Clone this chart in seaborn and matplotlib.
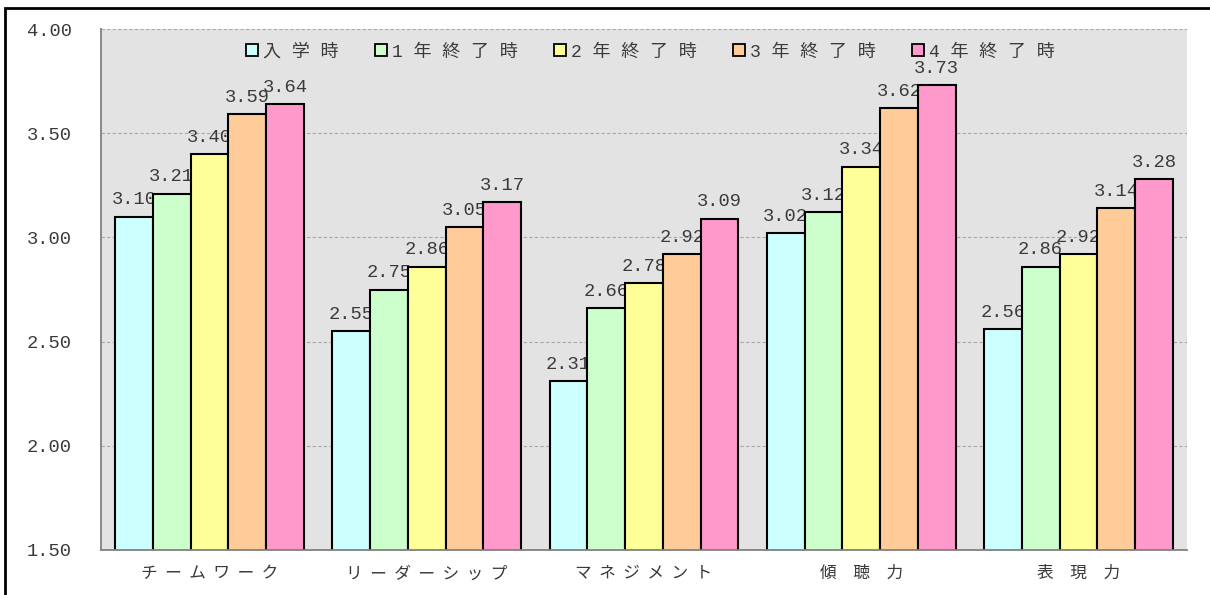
import pandas as pd
import seaborn as sns
import matplotlib.pyplot as plt
from matplotlib.patches import Rectangle, Patch

# data
skills = ['チームワーク', 'リーダーシップ', 'マネジメント', '傾聴力', '表現力']
stages = ['入学時', '1年終了時', '2年終了時', '3年終了時', '4年終了時']
nyugaku = [3.10, 2.55, 2.31, 3.02, 2.56]
year1 = [3.21, 2.75, 2.66, 3.12, 2.86]
year2 = [3.40, 2.86, 2.78, 3.34, 2.92]
year3 = [3.59, 3.05, 2.92, 3.62, 3.14]
year4 = [3.64, 3.17, 3.09, 3.73, 3.28]
colors = ['#CCFFFF', '#CCFFCC', '#FFFF99', '#FFCC99', '#FF99CC']

rows = []
for stage, vals in zip(stages, [nyugaku, year1, year2, year3, year4]):
    for skill, v in zip(skills, vals):
        rows.append({'skill': skill, 'stage': stage, 'score': v})
df = pd.DataFrame(rows)

sns.set_theme(style='white')
# monospace digits like the original, CJK glyphs fall back to Noto
mono_cjk = ['Liberation Mono', 'Noto Sans CJK JP']
plt.rcParams['font.family'] = mono_cjk
text_color = '#3A3A3A'


def spaced_tick(label):
    # the original text is drawn wide, so pad the characters
    if all(ord(ch) > 0x4E00 for ch in label):
        return '\u3000'.join(label)
    return '  '.join(label)


fig = plt.figure(figsize=(12.1, 5.95), dpi=100)
ax = fig.add_axes([101 / 1210, 1 - 550 / 595, 1086 / 1210, 521 / 595])

sns.barplot(data=df, x='skill', y='score', hue='stage', order=skills, hue_order=stages,
            palette=colors, saturation=1, width=0.87, edgecolor='black', linewidth=1.5,
            bottom=0, ax=ax, legend=False)

ax.set_facecolor('#E3E3E3')
ax.set_ylim(1.5, 4.0)
ax.set_yticks([1.5, 2.0, 2.5, 3.0, 3.5, 4.0])
ax.set_yticklabels([f'{t:.2f}' for t in ax.get_yticks()], fontsize=13.5, color=text_color)
ax.set_xticks(range(len(skills)))
ax.set_xticklabels([spaced_tick(s) for s in skills], fontsize=12, color=text_color,
                   family=['Noto Sans CJK JP'])
ax.tick_params(axis='y', length=0, pad=21)
ax.tick_params(axis='x', length=0, pad=11)
ax.set_xlabel('')
ax.set_ylabel('')
ax.grid(axis='y', color='#A8A8A8', linestyle=(0, (3, 2)), linewidth=0.8)
ax.set_axisbelow(True)
for side in ['top', 'right']:
    ax.spines[side].set_visible(False)
for side in ['left', 'bottom']:
    ax.spines[side].set_color('#808080')
    ax.spines[side].set_linewidth(1.3)

# value labels sit under the neighbouring bars, as in the original
for cont in ax.containers:
    labels = ax.bar_label(cont, fmt='%.2f', padding=6, fontsize=13.5, color=text_color)
    for t in labels:
        t.set_zorder(0.9)

handles = [Patch(facecolor=c, edgecolor='black', linewidth=1.3) for c in colors]
leg = ax.legend(handles, [' '.join(s) for s in stages], loc='center',
                bbox_to_anchor=(0.506, 1 - 23 / 521), ncol=5, frameon=False,
                fontsize=13, handlelength=0.65, handleheight=0.65,
                handletextpad=0.3, columnspacing=2.0)
for t in leg.get_texts():
    t.set_color(text_color)

# outer frame of the chart area (cut off at right and bottom)
fig.patches.append(Rectangle((5 / 1210, -0.1), 1.2, 1 - 8 / 595 + 0.1,
                             transform=fig.transFigure, fill=False,
                             edgecolor='black', linewidth=2))

plt.savefig('out.png', dpi=100)
